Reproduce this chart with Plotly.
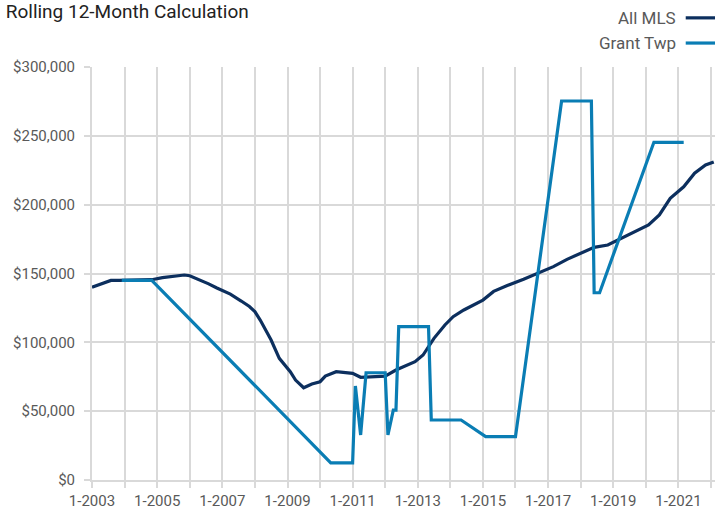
import plotly.graph_objects as go

FONT = "Roboto, Liberation Sans, sans-serif"

mls_dates = ["2003-01", "2003-05", "2003-08", "2003-11", "2004-04", "2004-11", "2005-03", "2005-07",
             "2005-11", "2006-01", "2006-04", "2006-08", "2006-11", "2007-04", "2007-08", "2007-11",
             "2008-01", "2008-03", "2008-07", "2008-10", "2009-02", "2009-04", "2009-07", "2009-10",
             "2010-01", "2010-03", "2010-07", "2011-01", "2011-04", "2011-08", "2012-01", "2012-05",
             "2012-08", "2012-12", "2013-03", "2013-07", "2013-11", "2014-02", "2014-06", "2014-10",
             "2015-01", "2015-05", "2015-10", "2016-04", "2016-10", "2017-03", "2017-08", "2018-01",
             "2018-06", "2018-11", "2019-04", "2019-09", "2020-02", "2020-06", "2020-10", "2021-03",
             "2021-07", "2021-11", "2022-02"]
mls_values = [140000, 143000, 145000, 145000, 145300, 145500, 147000, 147700,
              148900, 148400, 146000, 142500, 139500, 135000, 130000, 126000,
              122300, 116200, 101700, 88400, 78700, 72600, 67000, 69700,
              71400, 75500, 78700, 77500, 74600, 75000, 75500, 79900,
              82300, 85900, 90800, 102900, 112600, 118600, 123500, 127800,
              130700, 137000, 141300, 145800, 150600, 155000, 160300, 164700,
              169000, 170700, 175600, 180400, 185200, 192500, 204600, 213000,
              222800, 228800, 231000]

grant_dates = ["2003-12", "2004-11", "2010-05", "2011-01", "2011-02", "2011-04", "2011-06", "2012-01",
               "2012-02", "2012-04", "2012-05", "2012-06", "2013-05", "2013-06", "2014-05", "2015-02",
               "2016-01", "2017-06", "2018-05", "2018-06", "2018-08", "2020-04", "2021-03"]
grant_values = [145000, 145000, 12500, 12500, 68300, 32700, 77900, 77900,
                32700, 50800, 50800, 111400, 111400, 43600, 43600, 31500,
                31500, 275300, 275300, 136000, 136000, 245300, 245300]

series_names = ["All MLS", "Grant Twp"]
series_colors = ["#0c2f5e", "#0a7db4"]

fig = go.Figure()
fig.add_trace(go.Scatter(x=mls_dates, y=mls_values, mode="lines", name=series_names[0],
                         line=dict(color=series_colors[0], width=3.2), showlegend=False))
fig.add_trace(go.Scatter(x=grant_dates, y=grant_values, mode="lines", name=series_names[1],
                         line=dict(color=series_colors[1], width=3.2), showlegend=False))

# custom legend (text left of line sample, right-aligned)
legend_y = [1.119, 1.058]
for name, color, ly in zip(series_names, series_colors, legend_y):
    fig.add_annotation(xref="paper", yref="paper", x=0.94, y=ly, text=name, showarrow=False,
                       xanchor="right", yanchor="middle",
                       font=dict(family=FONT, size=17, color="#595959"))
    fig.add_shape(type="line", xref="paper", yref="paper", x0=0.953, x1=1.0, y0=ly, y1=ly,
                  line=dict(color=color, width=3.2))

fig.update_layout(
    width=715, height=515,
    margin=dict(l=92, r=0, t=67, b=35),
    paper_bgcolor="white", plot_bgcolor="white",
    font=dict(family=FONT, size=15, color="#595959"),
    title=dict(text="Rolling 12-Month Calculation", xref="container", yref="container",
               x=0.008, y=0.978, xanchor="left", yanchor="middle",
               font=dict(family=FONT, size=19, color="#222222")),
)
fig.update_xaxes(type="date", range=["2003-01-01", "2022-02-15"],
                 dtick="M12", tick0="2003-01-01", tickformat="%-m-%Y", ticklabelstep=2,
                 showgrid=True, gridcolor="#d9d9d9", gridwidth=2,
                 showline=True, linecolor="#d9d9d9", linewidth=2,
                 ticks="outside", ticklen=6, tickcolor="#d9d9d9", tickwidth=2,
                 zeroline=False)
fig.update_yaxes(range=[0, 300000], dtick=50000, tickprefix="$", tickformat=",d",
                 showgrid=True, gridcolor="#d9d9d9", gridwidth=2,
                 showline=True, linecolor="#d9d9d9", linewidth=2,
                 ticks="outside", ticklen=6, tickcolor="#d9d9d9", tickwidth=2,
                 ticklabelstandoff=6, zeroline=False)

fig.write_html("out.html", config={"displayModeBar": False},
               post_script="document.body.style.margin='0px';")
